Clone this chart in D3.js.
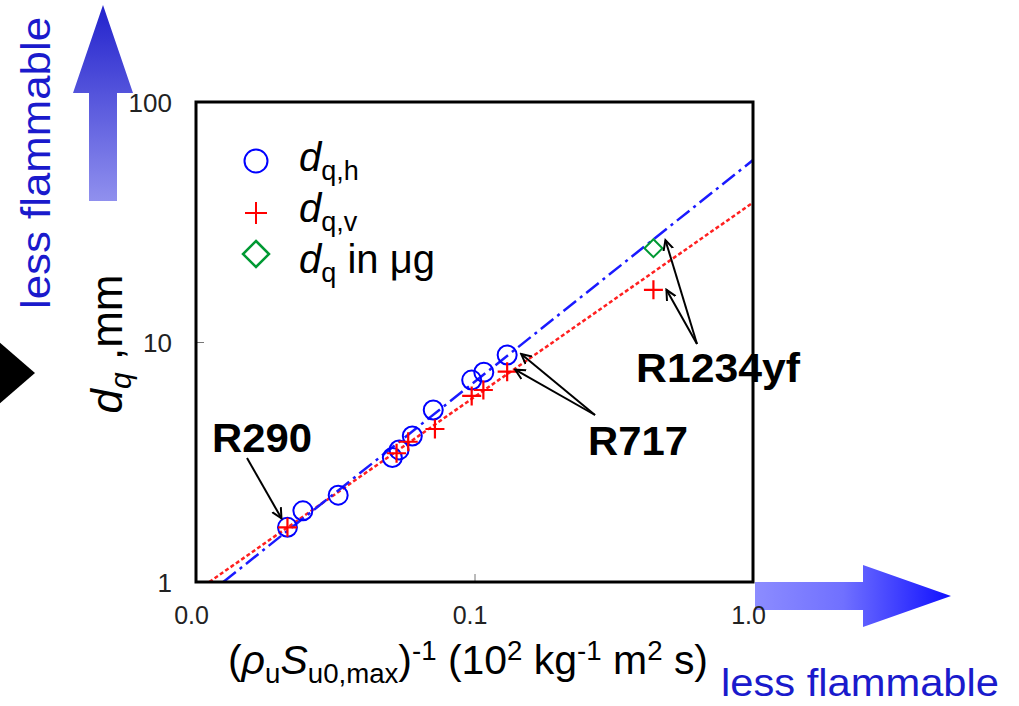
<!DOCTYPE html>
<html>
<head>
<meta charset="utf-8">
<script src="https://cdn.jsdelivr.net/npm/d3@7"></script>
<style>
  html, body { margin: 0; padding: 0; background: #fff; }
  svg { display: block; font-family: Arial, "Liberation Sans", sans-serif; }
</style>
</head>
<body>
<svg id="chart" width="1019" height="706"></svg>
<script>
// Quenching distance vs inverse maximum mass burning flux
const hX = [0.0213, 0.0242, 0.0324, 0.0507, 0.0536, 0.0598, 0.0711, 0.0977, 0.108, 0.131];
const hY = [1.69, 1.98, 2.30, 3.30, 3.55, 4.06, 5.21, 6.94, 7.48, 8.83];
const vX = [0.0213, 0.0525, 0.0578, 0.0721, 0.0977, 0.1076, 0.131, 0.439];
const vY = [1.69, 3.44, 3.84, 4.34, 5.96, 6.31, 7.52, 16.5];
const muX = [0.439];
const muY = [24.6];

// power-law fit lines (end points)
const fitHX = [0.01253, 1.0];
const fitHY = [1.0, 57.3];
const fitVX = [0.01116, 1.0];
const fitVY = [1.0, 38.1];

const xTicks = [0.01, 0.1, 1];
const xTickLabels = ["0.0", "0.1", "1.0"];
const yTicks = [1, 10, 100];
const yTickLabels = ["1", "10", "100"];

const svg = d3.select("#chart");
const L = 196, R = 753, T = 102, B = 582;

const x = d3.scaleLog().domain([0.01, 1]).range([L, R]);
const y = d3.scaleLog().domain([1, 100]).range([B, T]);

const defs = svg.append("defs");
defs.append("clipPath").attr("id", "plotClip")
  .append("rect").attr("x", L).attr("y", T).attr("width", R - L).attr("height", B - T);

const gUp = defs.append("linearGradient").attr("id", "gradUp")
  .attr("x1", 0).attr("y1", 1).attr("x2", 0).attr("y2", 0);
gUp.append("stop").attr("offset", "0%").attr("stop-color", "#9090ee");
gUp.append("stop").attr("offset", "100%").attr("stop-color", "#2222cc");

const gRight = defs.append("linearGradient").attr("id", "gradRight")
  .attr("x1", 0).attr("y1", 0).attr("x2", 1).attr("y2", 0);
gRight.append("stop").attr("offset", "0%").attr("stop-color", "#8c8cff");
gRight.append("stop").attr("offset", "45%").attr("stop-color", "#7070ff");
gRight.append("stop").attr("offset", "100%").attr("stop-color", "#1010ff");

defs.append("marker").attr("id", "openHead")
  .attr("viewBox", "-10 -6 12 12").attr("refX", 0).attr("refY", 0)
  .attr("markerWidth", 12).attr("markerHeight", 12)
  .attr("markerUnits", "userSpaceOnUse").attr("orient", "auto")
  .append("path").attr("d", "M-10,-5 L0,0 L-10,5")
  .attr("fill", "none").attr("stroke", "#000").attr("stroke-width", 2);

// decorative "less flammable" arrows
svg.append("path")
  .attr("d", "M103,5 L133,93 L117,93 L117,201 L89,201 L89,93 L73,93 Z")
  .attr("fill", "url(#gradUp)");
svg.append("path")
  .attr("d", "M755,582 L863,582 L863,565 L951,596 L863,627 L863,610 L755,610 Z")
  .attr("fill", "url(#gradRight)");
svg.append("path")
  .attr("d", "M-10,334 L35,373 L-10,412 Z")
  .attr("fill", "#000");

svg.append("text")
  .attr("transform", "translate(50,163) rotate(-90)")
  .attr("text-anchor", "middle")
  .attr("font-size", 40).attr("fill", "#1a1acc")
  .attr("textLength", 292).attr("lengthAdjust", "spacingAndGlyphs")
  .text("less flammable");
svg.append("text")
  .attr("x", 721).attr("y", 696)
  .attr("font-size", 38).attr("fill", "#1a1acc")
  .attr("textLength", 278).attr("lengthAdjust", "spacingAndGlyphs")
  .text("less flammable");

// axes
const xAxis = d3.axisBottom(x).tickValues(xTicks)
  .tickFormat((d, i) => xTickLabels[i]).tickSizeInner(-8).tickSizeOuter(0);
const gx = svg.append("g").attr("transform", `translate(0,${B})`).call(xAxis);
gx.select(".domain").remove();
gx.selectAll(".tick line").attr("stroke", "#777").attr("stroke-width", 1);
gx.selectAll(".tick text").attr("y", 42).attr("dy", 0).attr("dx", -5)
  .attr("font-size", 25).attr("fill", "#222")
  .attr("font-family", "Arial, 'Liberation Sans', sans-serif");

const yAxis = d3.axisLeft(y).tickValues(yTicks)
  .tickFormat((d, i) => yTickLabels[i]).tickSizeInner(-8).tickSizeOuter(0);
const gy = svg.append("g").attr("transform", `translate(${L},0)`).call(yAxis);
gy.select(".domain").remove();
gy.selectAll(".tick line").attr("stroke", "#777").attr("stroke-width", 1);
gy.selectAll(".tick text").attr("x", -24).attr("dy", "0.36em")
  .attr("font-size", 26).attr("fill", "#222")
  .attr("font-family", "Arial, 'Liberation Sans', sans-serif");

// fit lines
const plot = svg.append("g").attr("clip-path", "url(#plotClip)");
const line = d3.line().x(d => x(d[0])).y(d => y(d[1]));
plot.append("path")
  .attr("d", line(d3.zip(fitVX, fitVY)))
  .attr("fill", "none").attr("stroke", "#ff2020").attr("stroke-width", 2.5)
  .attr("stroke-dasharray", "4,2.5");
plot.append("path")
  .attr("d", line(d3.zip(fitHX, fitHY)))
  .attr("fill", "none").attr("stroke", "#1a1aff").attr("stroke-width", 2.5)
  .attr("stroke-dasharray", "16,5,3,5");

// markers
const hPts = d3.zip(hX, hY), vPts = d3.zip(vX, vY), muPts = d3.zip(muX, muY);
plot.selectAll("circle.h").data(hPts).join("circle").attr("class", "h")
  .attr("cx", d => x(d[0])).attr("cy", d => y(d[1])).attr("r", 9.5)
  .attr("fill", "none").attr("stroke", "#0000ff").attr("stroke-width", 2);
const plus = s => `M${-s},0H${s}M0,${-s}V${s}`;
plot.selectAll("path.v").data(vPts).join("path").attr("class", "v")
  .attr("transform", d => `translate(${x(d[0])},${y(d[1])})`)
  .attr("d", plus(9.5)).attr("fill", "none").attr("stroke", "#ff0000").attr("stroke-width", 2.2);
const diamond = s => `M0,${-s}L${s},0L0,${s}L${-s},0Z`;
plot.selectAll("path.mu").data(muPts).join("path").attr("class", "mu")
  .attr("transform", d => `translate(${x(d[0])},${y(d[1])})`)
  .attr("d", diamond(9)).attr("fill", "none").attr("stroke", "#009933").attr("stroke-width", 2);

// frame
svg.append("rect").attr("x", L).attr("y", T).attr("width", R - L).attr("height", B - T)
  .attr("fill", "none").attr("stroke", "#000").attr("stroke-width", 3);

// legend
const leg = svg.append("g");
leg.append("circle").attr("cx", 256).attr("cy", 161).attr("r", 11.5)
  .attr("fill", "none").attr("stroke", "#0000ff").attr("stroke-width", 2);
leg.append("path").attr("transform", "translate(256,213)").attr("d", plus(11))
  .attr("fill", "none").attr("stroke", "#ff0000").attr("stroke-width", 2);
leg.append("path").attr("transform", "translate(256,254)").attr("d", diamond(13))
  .attr("fill", "none").attr("stroke", "#009933").attr("stroke-width", 2.5);

function legText(yb, sub, rest) {
  const t = leg.append("text").attr("x", 299).attr("y", yb).attr("font-size", 40).attr("fill", "#000");
  t.append("tspan").attr("font-style", "italic").text("d");
  t.append("tspan").attr("font-size", 27).attr("dy", 9).text(sub);
  if (rest) t.append("tspan").attr("dy", -9).text(rest);
}
legText(171, "q,h", null);
legText(222, "q,v", null);
legText(273, "q", " in \u03bcg");

// y title
const yt = svg.append("text")
  .attr("transform", "translate(122,344) rotate(-90)")
  .attr("text-anchor", "middle").attr("font-size", 44).attr("fill", "#000");
yt.append("tspan").attr("font-style", "italic").text("d");
yt.append("tspan").attr("font-style", "italic").attr("font-size", 30).attr("dy", 9).text("q");
yt.append("tspan").attr("dy", -9).text(" ,mm");

// x title
const big = 40, small = 27, sub = 9, sup = -14;
const xt = svg.append("text").attr("x", 228).attr("y", 674).attr("font-size", big).attr("fill", "#000")
  .attr("textLength", 480).attr("lengthAdjust", "spacingAndGlyphs");
const parts = [
  ["(", big, 0, false], ["\u03c1", big, 0, true], ["u", small, sub, false],
  ["S", big, 0, true], ["u0,max", small, sub, false], [")", big, 0, false],
  ["-1", small, sup, false], [" (10", big, 0, false], ["2", small, sup, false],
  [" kg", big, 0, false], ["-1", small, sup, false], [" m", big, 0, false],
  ["2", small, sup, false], [" s)", big, 0, false]
];
let prev = 0;
parts.forEach(([txt, fs, off, it]) => {
  xt.append("tspan").attr("font-size", fs).attr("dy", off - prev)
    .attr("font-style", it ? "italic" : "normal").text(txt);
  prev = off;
});

// annotations: label, label anchor, arrows to data points with pixel offsets
const notes = [
  { label: "R290", lx: 212, ly: 452, width: 100, from: [247, 458],
    to: [{ p: [hX[0], hY[0]], off: [-6, -9] }] },
  { label: "R717", lx: 588, ly: 455, width: 100, from: [595, 415],
    to: [{ p: [hX[9], hY[9]], off: [14, -1] }, { p: [vX[6], vY[6]], off: [8, -2] }] },
  { label: "R1234yf", lx: 636, ly: 382, width: 164, from: [697, 344],
    to: [{ p: [muX[0], muY[0]], off: [12, -8] }, { p: [vX[7], vY[7]], off: [13, 0] }] }
];
notes.forEach(n => {
  n.to.forEach(t => {
    svg.append("line")
      .attr("x1", n.from[0]).attr("y1", n.from[1])
      .attr("x2", x(t.p[0]) + t.off[0]).attr("y2", y(t.p[1]) + t.off[1])
      .attr("stroke", "#000").attr("stroke-width", 2)
      .attr("marker-end", "url(#openHead)");
  });
  svg.append("text").attr("x", n.lx).attr("y", n.ly)
    .attr("font-size", 40).attr("font-weight", "bold").attr("fill", "#000")
    .attr("textLength", n.width).attr("lengthAdjust", "spacingAndGlyphs")
    .text(n.label);
});
</script>
</body>
</html>
